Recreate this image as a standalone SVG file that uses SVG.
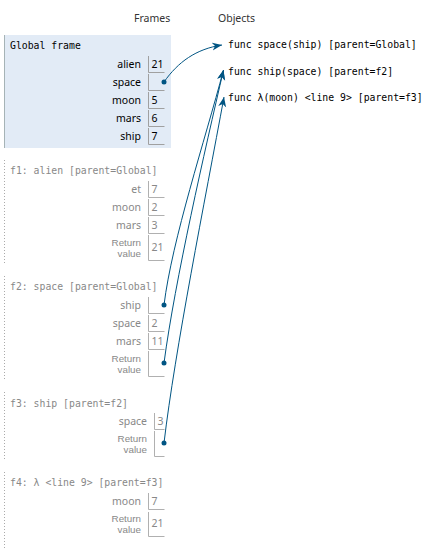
<svg xmlns="http://www.w3.org/2000/svg" width="437" height="548" viewBox="0 0 437 548">
<style>
.hd{font-family:"Noto Sans","DejaVu Sans",sans-serif;font-size:10.5px;fill:#333}
.lab{font-family:"Noto Sans","DejaVu Sans",sans-serif;font-size:10.5px;text-anchor:end}
.rv{font-family:"Liberation Sans","Noto Sans",sans-serif;font-size:9.8px;text-anchor:end}
.val{font-family:"Noto Sans","DejaVu Sans",sans-serif;font-size:10.5px}
.mono{font-family:"DejaVu Sans Mono","Liberation Mono",monospace;font-size:9.8px}
.g .lab,.g .val,.g .mono{fill:#000}
.f .lab,.f .val,.f .rv,.f .mono{fill:#888}
.box{fill:none;stroke:#a0a0a0;stroke-width:1}
.f .box{stroke:#b0b0b0}
.dotted{stroke:#aaa;stroke-width:1;stroke-dasharray:1,2}
.obj{font-family:"DejaVu Sans Mono","Liberation Mono",monospace;font-size:9.8px;fill:#000}
.conn{fill:none;stroke:#005583;stroke-width:1}
.dot{fill:#005583}
</style>
<defs>
<marker id="ah" markerUnits="userSpaceOnUse" markerWidth="11" markerHeight="9" refX="10" refY="4" orient="auto">
<path d="M0,0 L10,4 L0,8 L3,4 Z" fill="#005583"/>
</marker>
</defs>
<text class="hd" x="134" y="21.5">Frames</text>
<text class="hd" x="218" y="21.5">Objects</text>

<g id="global" class="g">
<rect x="4" y="35" width="167" height="113" fill="#e2ebf6"/>
<line x1="4.5" y1="35" x2="4.5" y2="148" stroke="#a6b3b6"/>
<text class="mono" x="10" y="49">Global frame</text>
<text class="lab" x="141" y="67.5">alien</text><path class="box" d="M148.5,56 V72.5 H164.5"/><text class="val" x="151.5" y="67.5">21</text>
<text class="lab" x="141" y="85.5">space</text><path class="box" d="M148.5,74 V90.5 H164.5"/>
<text class="lab" x="141" y="103.5">moon</text><path class="box" d="M148.5,92 V108.5 H164.5"/><text class="val" x="151.5" y="103.5">5</text>
<text class="lab" x="141" y="121.5">mars</text><path class="box" d="M148.5,110 V126.5 H164.5"/><text class="val" x="151.5" y="121.5">6</text>
<text class="lab" x="141" y="139.5">ship</text><path class="box" d="M148.5,128 V144.5 H164.5"/><text class="val" x="151.5" y="139.5">7</text>
</g>

<g id="f1" class="f">
<line class="dotted" x1="4.5" y1="160" x2="4.5" y2="265"/>
<text class="mono" x="10" y="174">f1: alien [parent=Global]</text>
<text class="lab" x="141" y="192.5">et</text><path class="box" d="M148.5,181 V197.5 H164.5"/><text class="val" x="151.5" y="192.5">7</text>
<text class="lab" x="141" y="210.5">moon</text><path class="box" d="M148.5,199 V215.5 H164.5"/><text class="val" x="151.5" y="210.5">2</text>
<text class="lab" x="141" y="228.5">mars</text><path class="box" d="M148.5,217 V233.5 H164.5"/><text class="val" x="151.5" y="228.5">3</text>
<text class="rv" x="141" y="245.5">Return</text><text class="rv" x="141" y="256.8">value</text><path class="box" d="M148.5,235 V260.5 H164.5"/><text class="val" x="151.5" y="251">21</text>
</g>

<g id="f2" class="f">
<line class="dotted" x1="4.5" y1="276" x2="4.5" y2="380"/>
<text class="mono" x="10" y="289.5">f2: space [parent=Global]</text>
<text class="lab" x="141" y="308.5">ship</text><path class="box" d="M148.5,297 V313.5 H164.5"/>
<text class="lab" x="141" y="326.5">space</text><path class="box" d="M148.5,315 V331.5 H164.5"/><text class="val" x="151.5" y="326.5">2</text>
<text class="lab" x="141" y="344.5">mars</text><path class="box" d="M148.5,333 V349.5 H164.5"/><text class="val" x="151.5" y="344.5">11</text>
<text class="rv" x="141" y="361.5">Return</text><text class="rv" x="141" y="372.8">value</text><path class="box" d="M148.5,351 V376.5 H164.5"/>
</g>

<g id="f3" class="f">
<line class="dotted" x1="4.5" y1="392" x2="4.5" y2="461"/>
<text class="mono" x="10" y="406.5">f3: ship [parent=f2]</text>
<text class="lab" x="147" y="424.5">space</text><path class="box" d="M154.5,413 V429.5 H164.5"/><text class="val" x="157.5" y="424.5">3</text>
<text class="rv" x="147" y="441.5">Return</text><text class="rv" x="147" y="452.8">value</text><path class="box" d="M154.5,431 V456.5 H164.5"/>
</g>

<g id="f4" class="f">
<line class="dotted" x1="4.5" y1="472" x2="4.5" y2="548"/>
<text class="mono" x="10" y="485.5">f4: λ &lt;line 9&gt; [parent=f3]</text>
<text class="lab" x="141" y="504.5">moon</text><path class="box" d="M148.5,493 V509.5 H164.5"/><text class="val" x="151.5" y="504.5">7</text>
<text class="rv" x="141" y="521.5">Return</text><text class="rv" x="141" y="532.8">value</text><path class="box" d="M148.5,512 V536.5 H164.5"/><text class="val" x="151.5" y="527">21</text>
</g>

<g id="obj_space"><text class="obj" x="228" y="48">func space(ship) [parent=Global]</text></g>
<g id="obj_ship"><text class="obj" x="228" y="75">func ship(space) [parent=f2]</text></g>
<g id="obj_lambda"><text class="obj" x="228" y="101">func λ(moon) &lt;line 9&gt; [parent=f3]</text></g>

<g id="connectors">
<path class="conn" d="M164,82 C178,62 196,49 222,45" marker-end="url(#ah)"/>
<path class="conn" d="M164,305 C172,240 205,140 223.5,70" marker-end="url(#ah)"/>
<path class="conn" d="M164,363 C175,280 205,150 223.5,70" marker-end="url(#ah)"/>
<path class="conn" d="M164,443 C175,350 205,200 224,97" marker-end="url(#ah)"/>
<circle class="dot" cx="164" cy="82" r="2.5"/>
<circle class="dot" cx="164" cy="305" r="2.5"/>
<circle class="dot" cx="164" cy="363" r="2.5"/>
<circle class="dot" cx="164" cy="443" r="2.5"/>
</g>
</svg>
